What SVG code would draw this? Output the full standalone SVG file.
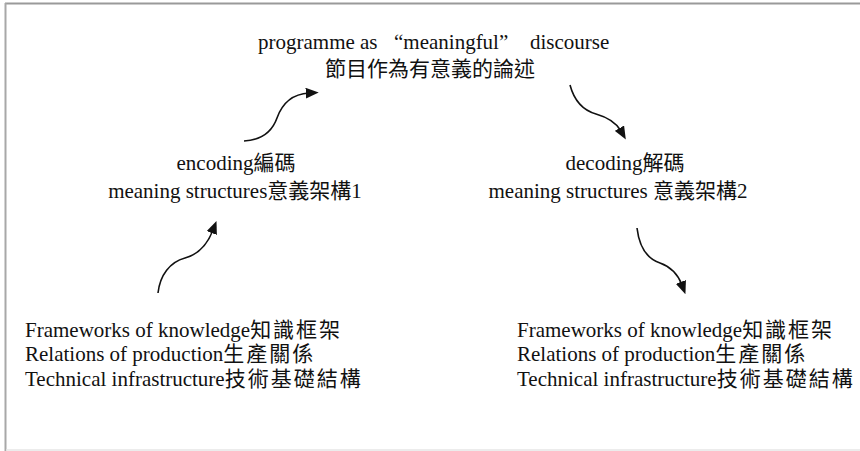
<svg xmlns="http://www.w3.org/2000/svg" width="860" height="451" viewBox="0 0 860 451">
<style>
  .t { font-family: 'Liberation Serif', 'Noto Sans CJK TC', serif; font-size: 21px; fill: #111; }
  .c { font-family: 'Noto Sans CJK TC', 'Liberation Serif', sans-serif; }
  .w { letter-spacing: 2px; }
  .conn { fill: none; stroke: #111; stroke-width: 1.6; }
</style>
<defs>
  <marker id="ah" viewBox="0 0 12 10" refX="3" refY="5" markerWidth="13" markerHeight="11" markerUnits="userSpaceOnUse" orient="auto">
    <path d="M0,0 L12,5 L0,10 z" fill="#111"/>
  </marker>
</defs>
<rect x="0" y="0" width="860" height="451" fill="#fff"/>
<g id="frame">
  <line x1="5" y1="3.5" x2="860" y2="3.5" stroke="#9a9a9a" stroke-width="2"/>
  <line x1="5.5" y1="3" x2="5.5" y2="451" stroke="#a8a8a8" stroke-width="2"/>
  <line x1="6" y1="450" x2="860" y2="450" stroke="#e6e6e6" stroke-width="1.5"/>
</g>
<g id="node-programme">
  <text class="t" y="49"><tspan x="258">programme as</tspan><tspan x="394">“meaningful”</tspan><tspan x="530">discourse</tspan></text>
  <text class="t c" x="430" y="76" text-anchor="middle">節目作為有意義的論述</text>
</g>
<g id="node-encoding">
  <text class="t" x="236" y="170" text-anchor="middle">encoding編碼</text>
  <text class="t" x="235" y="198" text-anchor="middle">meaning structures意義架構1</text>
</g>
<g id="node-decoding">
  <text class="t" x="625" y="170" text-anchor="middle">decoding解碼</text>
  <text class="t" x="618" y="198" text-anchor="middle">meaning structures 意義架構2</text>
</g>
<g id="node-left-base">
  <text class="t" x="25" y="337">Frameworks of knowledge<tspan class="w">知識框架</tspan></text>
  <text class="t" x="25" y="361">Relations of production<tspan class="w">生產關係</tspan></text>
  <text class="t" x="25" y="386">Technical infrastructure<tspan class="w">技術基礎結構</tspan></text>
</g>
<g id="node-right-base">
  <text class="t" x="517" y="337">Frameworks of knowledge<tspan class="w">知識框架</tspan></text>
  <text class="t" x="517" y="361">Relations of production<tspan class="w">生產關係</tspan></text>
  <text class="t" x="517" y="386">Technical infrastructure<tspan class="w">技術基礎結構</tspan></text>
</g>
<g id="connectors">
  <path class="conn" marker-end="url(#ah)" d="M244,141 C262,140 272,132 277,118 C282,104 292,94 309,93"/>
  <path class="conn" marker-end="url(#ah)" d="M158,293 C160,275 170,262 185,258 C200,254 208,243 213,230"/>
  <path class="conn" marker-end="url(#ah)" d="M570,85 C574,100 582,110 596,114 C610,118 617,124 621,131"/>
  <path class="conn" marker-end="url(#ah)" d="M637,228 C639,245 645,258 660,263 C674,268 679,277 682,285"/>
</g>
</svg>
